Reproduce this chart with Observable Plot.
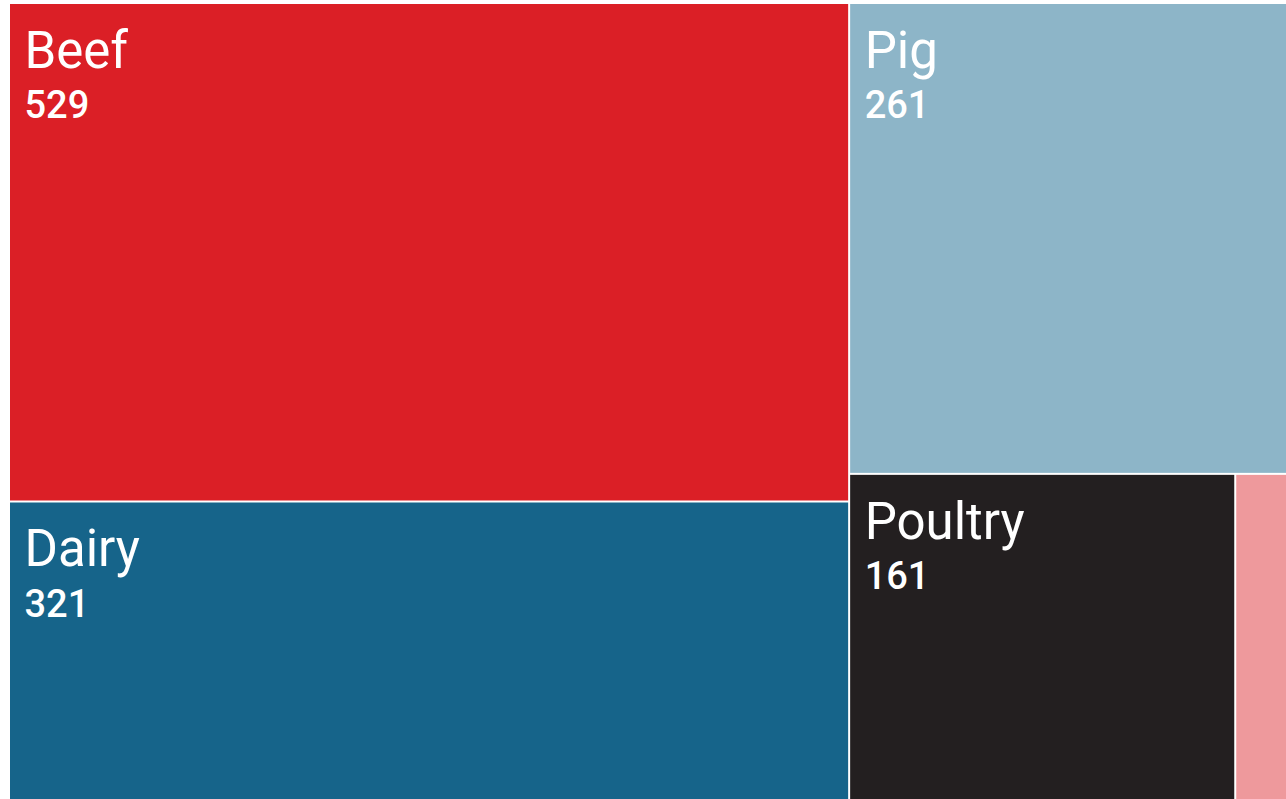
<!DOCTYPE html>
<html>
<head>
<meta charset="utf-8">
<script src="https://cdn.jsdelivr.net/npm/d3@7"></script>
<script src="https://cdn.jsdelivr.net/npm/@observablehq/plot@0.6"></script>
<style>
  html, body { margin: 0; padding: 0; background: #fff; }
  #chart { width: 1286px; height: 799px; overflow: hidden; }
  svg { display: block; }
</style>
</head>
<body>
<div id="chart"></div>
<script>
const categories = ["Beef", "Dairy", "Pig", "Poultry", "Other"];
const values = [529, 321, 261, 161, 22];
const colors = ["#db1f26", "#16648a", "#8db5c8", "#231f20", "#ee999c"];

const W = 1277, H = 799;
const root = d3.hierarchy({children: categories.map((name, i) => ({name, value: values[i], color: colors[i]}))})
  .sum(d => d.value || 0)
  .sort((a, b) => b.value - a.value);
d3.treemap().tile(d3.treemapSquarify).size([W, H]).paddingInner(2).round(false)(root);
const cells = root.leaves().map(l => ({
  name: l.data.name, value: l.data.value, color: l.data.color,
  x0: l.x0, x1: l.x1, y0: l.y0, y1: l.y1
}));
const labeled = cells.filter(d => d.x1 - d.x0 > 150);

const chart = Plot.plot({
  width: 1286,
  height: 799,
  marginLeft: 10,
  marginTop: 4,
  marginRight: 0,
  marginBottom: 0,
  x: {domain: [0, W], range: [10, 10 + W], axis: null},
  y: {domain: [0, H], range: [4, 4 + H], axis: null},
  style: {fontFamily: "Roboto, sans-serif", background: "#fff"},
  marks: [
    Plot.rect(cells, {x1: "x0", x2: "x1", y1: "y0", y2: "y1", fill: d => d.color}),
    Plot.text(labeled, {x: "x0", y: "y0", text: "name", dx: 14, dy: 27, textAnchor: "start", lineAnchor: "top", fill: "#fff", fontSize: 51, fontWeight: 400}),
    Plot.text(labeled, {x: "x0", y: "y0", text: d => String(d.value), dx: 14, dy: 87, textAnchor: "start", lineAnchor: "top", fill: "#fff", fontSize: 38, fontWeight: 500})
  ]
});
document.getElementById("chart").appendChild(chart);
</script>
</body>
</html>
